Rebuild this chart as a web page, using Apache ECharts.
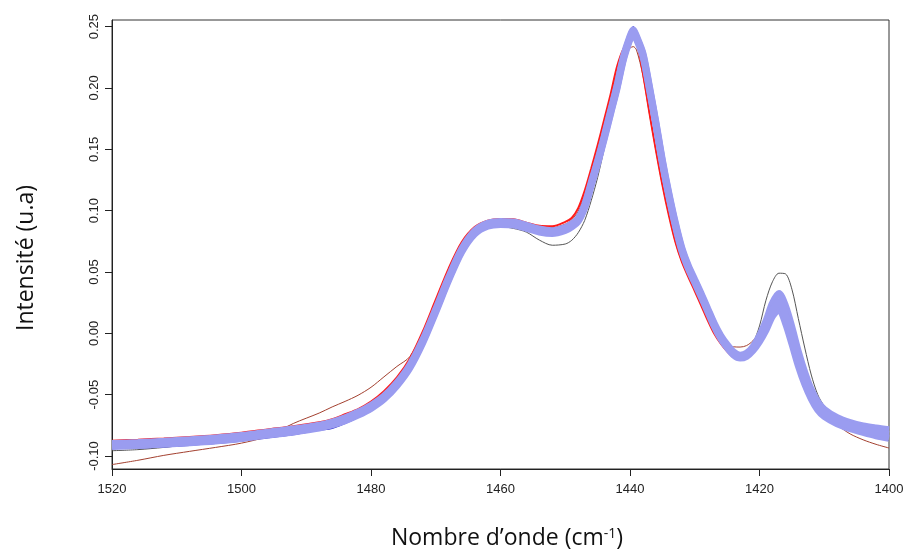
<!DOCTYPE html>
<html><head><meta charset="utf-8">
<script src="https://cdn.jsdelivr.net/npm/echarts@6/dist/echarts.min.js"></script>
<style>html,body{margin:0;padding:0;background:#fff}#c{width:906px;height:549px}</style>
</head><body><div id="c"></div>
<script>
// Wavenumbers (cm-1)
const wavenumbers = [1520,1516,1512,1508,1504,1500,1496,1492,1488,1486,1484,1482,1480,1478,1476,1474,1472,1470,1468,1466,1464,1462,1460,1458,1456,1454,1452,1450,1449,1448,1447,1446,1445,1444,1443,1442,1441,1440,1439.5,1439,1438,1437,1436,1435,1434,1433,1432,1431,1430,1429,1428,1427,1426,1425,1424,1423,1422,1421,1420,1419,1418,1417,1416,1415,1414,1413,1412,1411,1410,1408,1406,1404,1402,1400];

// light-blue group of spectra: upper edge, centre, lower edge
const blueHi = [-0.0898,-0.0890,-0.0880,-0.0868,-0.0853,-0.0833,-0.0806,-0.0780,-0.0748,-0.0723,-0.0688,-0.0643,-0.0588,-0.0513,-0.0403,-0.0258,-0.0053,0.0197,0.0457,0.0687,0.0834,0.0897,0.0912,0.0907,0.0880,0.0850,0.0837,0.0862,0.0892,0.0937,0.1047,0.1227,0.1407,0.1604,0.1813,0.2021,0.2257,0.2422,0.2474,0.2422,0.2282,0.2012,0.1722,0.1412,0.1142,0.0902,0.0697,0.0552,0.0437,0.0322,0.0202,0.0082,-0.0018,-0.0093,-0.0153,-0.0178,-0.0163,-0.0110,-0.0020,0.0100,0.0245,0.0325,0.0225,0.0050,-0.0150,-0.0320,-0.0460,-0.0560,-0.0620,-0.0688,-0.0728,-0.0755,-0.0772,-0.0786];
const blueMid = [-0.0910,-0.0902,-0.0892,-0.0880,-0.0865,-0.0845,-0.0818,-0.0792,-0.0760,-0.0735,-0.0700,-0.0655,-0.0600,-0.0525,-0.0415,-0.0270,-0.0065,0.0185,0.0445,0.0675,0.0822,0.0885,0.0900,0.0895,0.0868,0.0838,0.0825,0.0850,0.0880,0.0925,0.1035,0.1215,0.1395,0.1592,0.1801,0.2009,0.2245,0.2410,0.2465,0.2410,0.2270,0.2000,0.1710,0.1400,0.1130,0.0890,0.0685,0.0540,0.0425,0.0310,0.0190,0.0070,-0.0030,-0.0105,-0.0165,-0.0190,-0.0175,-0.0125,-0.0045,0.0060,0.0190,0.0255,0.0150,-0.0020,-0.0210,-0.0370,-0.0500,-0.0595,-0.0650,-0.0712,-0.0752,-0.0782,-0.0805,-0.0822];
const blueLo = [-0.0922,-0.0914,-0.0904,-0.0892,-0.0877,-0.0857,-0.0830,-0.0804,-0.0772,-0.0747,-0.0712,-0.0667,-0.0612,-0.0537,-0.0427,-0.0282,-0.0077,0.0173,0.0433,0.0663,0.0810,0.0873,0.0888,0.0883,0.0856,0.0826,0.0813,0.0838,0.0868,0.0913,0.1023,0.1203,0.1383,0.1580,0.1789,0.1997,0.2233,0.2398,0.2456,0.2398,0.2258,0.1988,0.1698,0.1388,0.1118,0.0878,0.0673,0.0528,0.0413,0.0298,0.0178,0.0058,-0.0042,-0.0117,-0.0177,-0.0202,-0.0188,-0.0140,-0.0068,0.0025,0.0140,0.0195,0.0085,-0.0085,-0.0265,-0.0415,-0.0535,-0.0625,-0.0678,-0.0738,-0.0778,-0.0808,-0.0835,-0.0855];

// red group
const redSpectrum = [-0.0875,-0.0867,-0.0857,-0.0845,-0.0830,-0.0810,-0.0783,-0.0757,-0.0725,-0.0700,-0.0660,-0.0618,-0.0557,-0.0472,-0.0360,-0.0205,0.0015,0.0274,0.0530,0.0742,0.0866,0.0918,0.0932,0.0929,0.0902,0.0876,0.0872,0.0908,0.0940,0.1020,0.1161,0.1341,0.1533,0.1738,0.1947,0.2174,0.2320,0.2390,0.2405,0.2385,0.2120,0.1797,0.1493,0.1211,0.0962,0.0747,0.0584,0.0460,0.0345,0.0226,0.0106,-0.0002,-0.0083,-0.0147,-0.0195,-0.0210,-0.0185,-0.0100,0.0005,0.0115,0.0185,0.0205,0.0095,-0.0090,-0.0275,-0.0435,-0.0550,-0.0628,-0.0675,-0.0730,-0.0770,-0.0800,-0.0822,-0.0840];

// dark individual spectra
const greySpectrum = [-0.0957,-0.0948,-0.0930,-0.0905,-0.0878,-0.0852,-0.0824,-0.0797,-0.0765,-0.0740,-0.0705,-0.0660,-0.0605,-0.0530,-0.0420,-0.0275,-0.0070,0.0180,0.0440,0.0665,0.0805,0.0862,0.0870,0.0855,0.0825,0.0760,0.0718,0.0728,0.0758,0.0820,0.0920,0.1080,0.1270,0.1500,0.1740,0.1980,0.2235,0.2425,0.2495,0.2440,0.2290,0.2025,0.1735,0.1420,0.1150,0.0910,0.0695,0.0555,0.0440,0.0330,0.0210,0.0090,-0.0015,-0.0090,-0.0150,-0.0175,-0.0150,-0.0080,0.0060,0.0270,0.0420,0.0490,0.0485,0.0360,0.0120,-0.0120,-0.0340,-0.0500,-0.0590,-0.0685,-0.0750,-0.0792,-0.0830,-0.0875];
const navySpectrum = [-0.0940,-0.0935,-0.0925,-0.0913,-0.0898,-0.0878,-0.0852,-0.0826,-0.0790,-0.0775,-0.0735,-0.0685,-0.0625,-0.0548,-0.0440,-0.0290,-0.0080,0.0175,0.0435,0.0668,0.0818,0.0890,0.0928,0.0925,0.0890,0.0848,0.0815,0.0825,0.0850,0.0895,0.0985,0.1150,0.1330,0.1520,0.1740,0.1960,0.2210,0.2420,0.2500,0.2445,0.2300,0.2030,0.1745,0.1435,0.1165,0.0925,0.0715,0.0570,0.0455,0.0345,0.0225,0.0105,0.0000,-0.0080,-0.0145,-0.0175,-0.0160,-0.0105,-0.0020,0.0110,0.0255,0.0340,0.0265,0.0100,-0.0100,-0.0290,-0.0435,-0.0540,-0.0605,-0.0675,-0.0720,-0.0748,-0.0765,-0.0776];
const brownSpectrum = [-0.1070,-0.1035,-0.0995,-0.0962,-0.0930,-0.0895,-0.0840,-0.0735,-0.0650,-0.0600,-0.0555,-0.0505,-0.0440,-0.0355,-0.0270,-0.0190,0.0010,0.0265,0.0525,0.0738,0.0862,0.0915,0.0928,0.0922,0.0895,0.0868,0.0862,0.0890,0.0925,0.0995,0.1130,0.1310,0.1510,0.1715,0.1920,0.2130,0.2270,0.2325,0.2337,0.2310,0.2100,0.1790,0.1490,0.1210,0.0965,0.0745,0.0585,0.0465,0.0350,0.0232,0.0112,0.0010,-0.0060,-0.0095,-0.0110,-0.0112,-0.0100,-0.0060,0.0010,0.0110,0.0175,0.0195,0.0105,-0.0075,-0.0265,-0.0435,-0.0555,-0.0635,-0.0685,-0.0750,-0.0820,-0.0868,-0.0905,-0.0935];

const yTicks = [-0.10,-0.05,0.00,0.05,0.10,0.15,0.20,0.25];

function pairs(ys){ return wavenumbers.map((w,i)=>[w, ys[i]]); }
function line(name, ys, color, width){
  return {name, type:'line', data:pairs(ys), symbol:'none', showSymbol:false, smooth:0.3,
    lineStyle:{color, width}, silent:true, emphasis:{disabled:true}};
}

const chart = echarts.init(document.getElementById('c'), null, {renderer:'canvas'});
chart.setOption({
  animation:false,
  backgroundColor:'#fff',
  grid:{left:112, right:17, top:20, bottom:80, show:true, borderColor:'#333', borderWidth:1, containLabel:false, outerBoundsMode:'none'},
  xAxis:{type:'value', inverse:true, min:1400, max:1520, interval:20,
    axisLine:{show:true, onZero:false, lineStyle:{color:'#222', width:1}},
    axisTick:{show:true, length:7, lineStyle:{color:'#222'}},
    axisLabel:{margin:14, fontFamily:'Liberation Sans', fontSize:13, color:'#222', showMinLabel:true, showMaxLabel:true,
      formatter:(v)=>String(v)},
    splitLine:{show:false},
    name:'Nombre d\u2019onde (cm{sup|-1})', nameLocation:'middle', nameGap:58,
    nameTextStyle:{fontFamily:'Open Sans', fontSize:23, color:'#111', padding:[0,0,0,13],
      rich:{sup:{fontFamily:'Open Sans', fontSize:14, color:'#111', verticalAlign:'top'}}}
  },
  yAxis:{type:'value', min:-0.1106, max:0.2554,
    axisLine:{show:true, onZero:false, lineStyle:{color:'#222', width:1}},
    axisTick:{show:true, length:7, customValues:yTicks, lineStyle:{color:'#222'}},
    axisLabel:{customValues:yTicks, rotate:90, margin:11, fontFamily:'Liberation Sans', fontSize:13, color:'#222',
      formatter:(v)=>Number(v).toFixed(2)},
    splitLine:{show:false},
    name:'Intensit\u00e9 (u.a)', nameLocation:'middle', nameRotate:90, nameGap:74,
    nameTextStyle:{fontFamily:'Open Sans', fontSize:23, color:'#111', padding:[0,27,0,0]}
  },
  series:[
    line('grey', greySpectrum, '#555555', 1),
    line('navy', navySpectrum, '#2a2ac8', 1.2),
    line('brown', brownSpectrum, '#a3402f', 1),
    line('red', redSpectrum, '#ff1a1a', 2),
    line('blueLo', blueLo, '#9a9cf0', 7),
    line('blueHi', blueHi, '#9a9cf0', 7),
    line('blueMid', blueMid, '#9a9cf0', 7)
  ]
});
</script>
</body></html>
